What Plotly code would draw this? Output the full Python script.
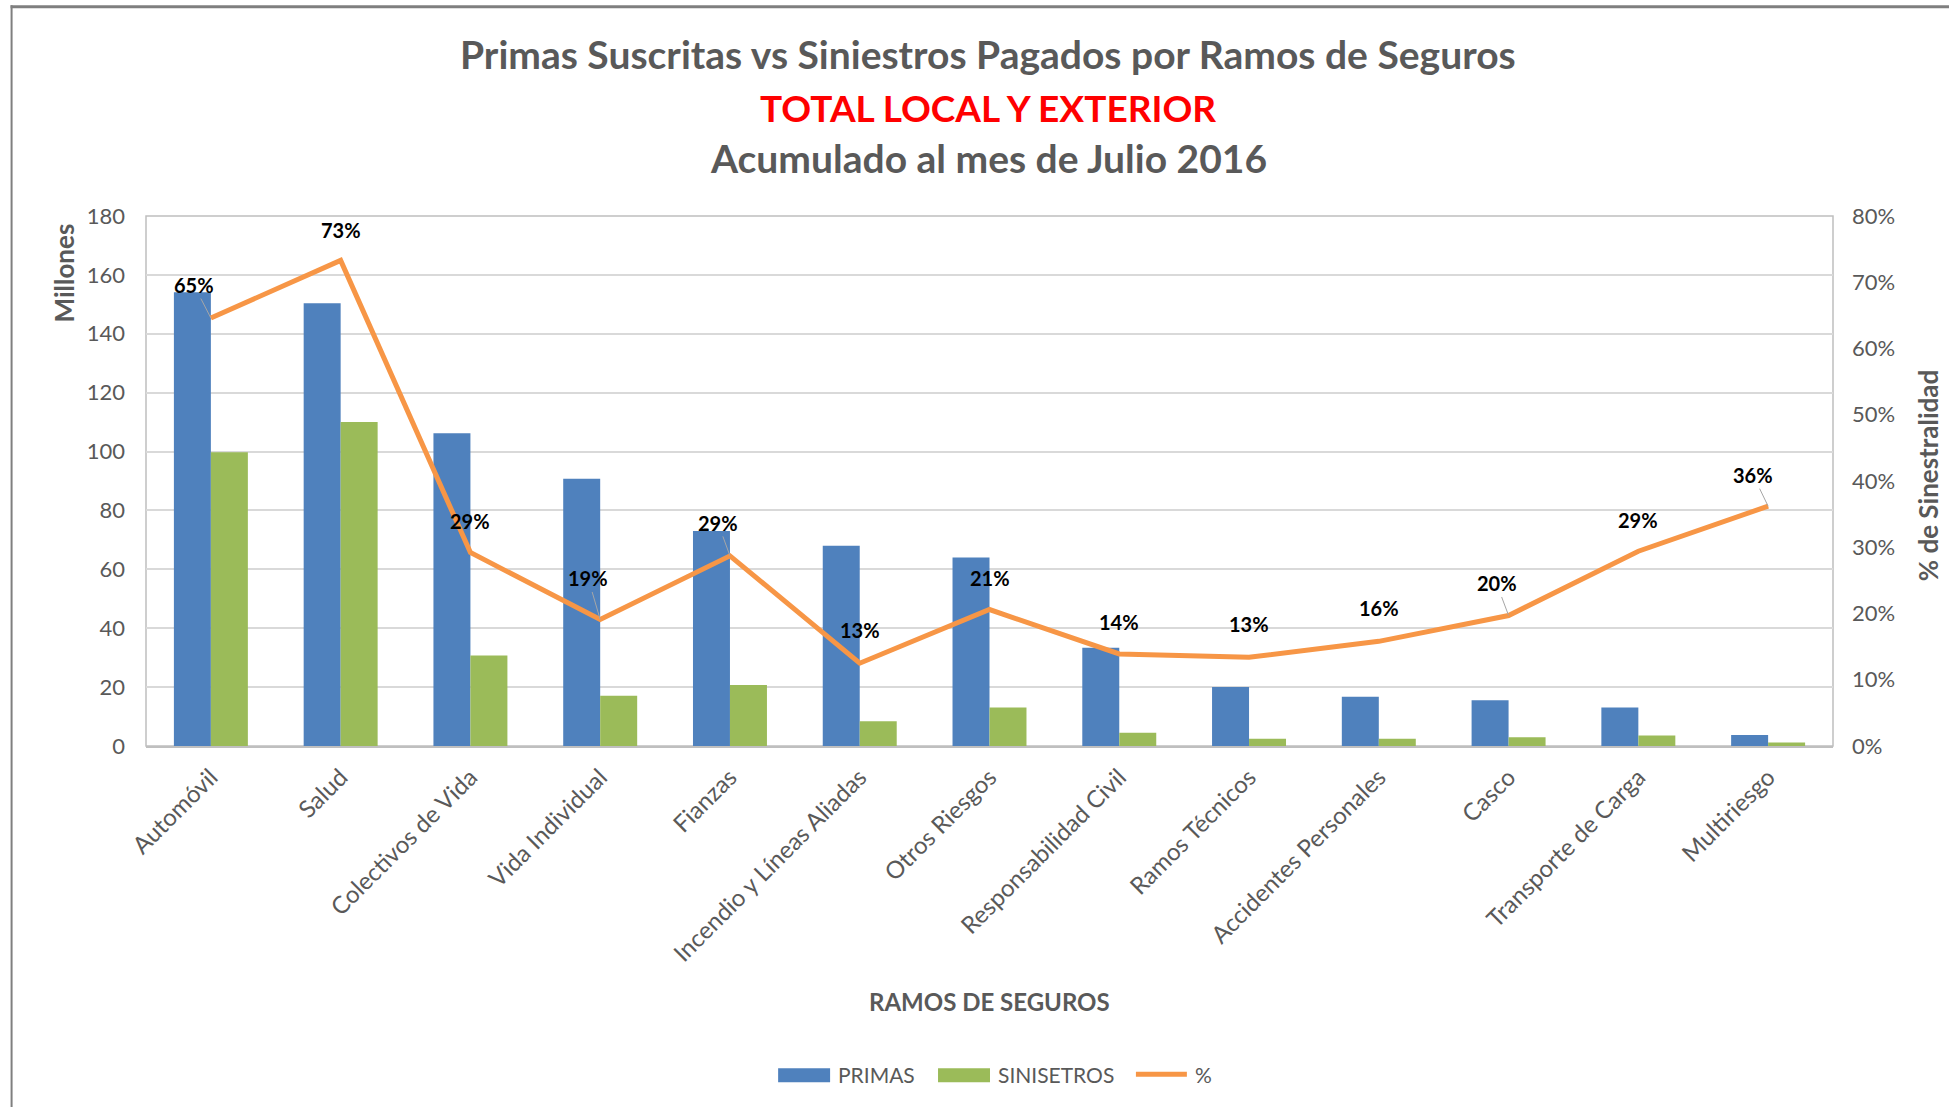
import plotly.graph_objects as go

categorias = ["Automóvil", "Salud", "Colectivos de Vida", "Vida Individual", "Fianzas",
              "Incendio y Líneas Aliadas", "Otros Riesgos", "Responsabilidad Civil",
              "Ramos Técnicos", "Accidentes Personales", "Casco", "Transporte de Carga",
              "Multiriesgo"]
primas = [154.1, 150.4, 106.2, 90.8, 73.0, 68.0, 64.0, 33.4, 20.0, 16.7, 15.5, 13.1, 3.7]
siniestros = [99.8, 110.0, 30.7, 17.1, 20.7, 8.4, 13.1, 4.5, 2.5, 2.5, 3.0, 3.6, 1.2]
porcentaje = [0.646, 0.733, 0.292, 0.191, 0.287, 0.125, 0.206, 0.139, 0.134, 0.158, 0.197, 0.294, 0.362]
etiquetas = ["65%", "73%", "29%", "19%", "29%", "13%", "21%", "14%", "13%", "16%", "20%", "29%", "36%"]
# label offsets (pixels) relative to the line point, and whether a leader line is shown
lab_dx = [-17, 0, 0, -12, -12, 0, 0, 0, 0, 0, -12, 0, -15]
lab_dy = [-33, -30, -32, -41, -33, -33, -32, -32, -33, -33, -32, -31, -31]
leader = [True, False, False, True, True, False, False, False, False, False, True, False, True]

FONT = "Lato"
GRAY = "#595959"

# plot area in page pixels
L, R, T, B = 145.5, 1833.5, 216.0, 746.4
W, H = 1949, 1107


def px(x):
    return (x - L) / (R - L)


def py(y):
    return (B - y) / (B - T)


fig = go.Figure()
fig.add_trace(go.Bar(x=categorias, y=primas, name="PRIMAS", marker_color="#4F81BD",
                     marker_line_width=0, showlegend=False))
fig.add_trace(go.Bar(x=categorias, y=siniestros, name="SINISETROS", marker_color="#9BBB59",
                     marker_line_width=0, showlegend=False))
fig.add_trace(go.Scatter(x=categorias, y=porcentaje, name="%", mode="lines",
                         line=dict(color="#F79646", width=5), yaxis="y2", showlegend=False))

annotations = []
for c, p, t, dx, dy, ld in zip(categorias, porcentaje, etiquetas, lab_dx, lab_dy, leader):
    common = dict(x=c, y=p, xref="x", yref="y2", text="<b>" + t + "</b>",
                  font=dict(family=FONT, size=20, color="black"),
                  xanchor="center", yanchor="middle")
    if ld:
        annotations.append(dict(common, showarrow=True, ax=dx, ay=dy, arrowhead=0,
                                arrowwidth=1, arrowcolor="#A6A6A6", standoff=0))
    else:
        annotations.append(dict(common, showarrow=False, xshift=dx, yshift=-dy))

# titles and axis titles
annotations += [
    dict(x=px(988), y=py(53.5), xref="paper", yref="paper", showarrow=False,
         text="<b>Primas Suscritas vs Siniestros Pagados por Ramos de Seguros</b>",
         font=dict(family=FONT, size=39, color=GRAY), xanchor="center", yanchor="middle"),
    dict(x=px(988), y=py(107), xref="paper", yref="paper", showarrow=False,
         text="<b>TOTAL LOCAL Y EXTERIOR</b>",
         font=dict(family=FONT, size=37, color="#FF0000"), xanchor="center", yanchor="middle"),
    dict(x=px(988), y=py(158), xref="paper", yref="paper", showarrow=False,
         text="<b>Acumulado al mes de Julio 2016</b>",
         font=dict(family=FONT, size=39, color=GRAY), xanchor="center", yanchor="middle"),
    dict(x=px(63), y=py(273), xref="paper", yref="paper",
         showarrow=False, text="<b>Millones</b>", textangle=-90,
         font=dict(family=FONT, size=26, color=GRAY), xanchor="center", yanchor="middle"),
    dict(x=px(1928), y=py(475), xref="paper", yref="paper",
         showarrow=False, text="<b>% de Sinestralidad</b>", textangle=-90,
         font=dict(family=FONT, size=26, color=GRAY), xanchor="center", yanchor="middle"),
    dict(x=px(989), y=py(1002), xref="paper", yref="paper",
         showarrow=False, text="<b>RAMOS DE SEGUROS</b>",
         font=dict(family=FONT, size=24, color=GRAY), xanchor="center", yanchor="middle"),
]

# custom legend (Excel style)
legend_items = [("PRIMAS", 778, 836), ("SINISETROS", 938, 996), ("%", 1136, 1193)]
for (name, sx, tx) in legend_items:
    annotations.append(dict(x=px(tx), y=py(1075), xref="paper", yref="paper",
                            showarrow=False, text=name, xanchor="left", yanchor="middle",
                            font=dict(family=FONT, size=21, color=GRAY)))

shapes = [
    # chart-area border (top and left)
    dict(type="line", xref="paper", yref="paper",
         x0=px(10), x1=px(1960), y0=py(6.5), y1=py(6.5),
         line=dict(color="#7F7F7F", width=3)),
    dict(type="line", xref="paper", yref="paper",
         x0=px(11), x1=px(11), y0=py(5), y1=py(1120),
         line=dict(color="#7F7F7F", width=2)),
    # plot-area border
    dict(type="rect", xref="paper", yref="paper", x0=0, x1=1, y0=0, y1=1,
         line=dict(color="#BFBFBF", width=1.5), layer="below"),
    # legend swatches
    dict(type="rect", xref="paper", yref="paper", x0=px(778), x1=px(830),
         y0=py(1083), y1=py(1069), fillcolor="#4F81BD", line=dict(width=0)),
    dict(type="rect", xref="paper", yref="paper", x0=px(938), x1=px(990),
         y0=py(1083), y1=py(1069), fillcolor="#9BBB59", line=dict(width=0)),
    dict(type="line", xref="paper", yref="paper", x0=px(1136), x1=px(1187),
         y0=py(1075), y1=py(1075), line=dict(color="#F79646", width=5)),
]

fig.update_layout(
    width=W, height=H,
    margin=dict(l=L, r=W - R, t=T, b=H - B),
    paper_bgcolor="white", plot_bgcolor="white",
    barmode="group", bargap=0.43, bargroupgap=0,
    font=dict(family=FONT, color=GRAY),
    showlegend=False,
    xaxis=dict(tickangle=-45, tickfont=dict(family=FONT, size=24, color=GRAY),
               showgrid=False, showline=True, linecolor="#BFBFBF", linewidth=1.5,
               ticks="", ticklabelstandoff=6, automargin=False),
    yaxis=dict(range=[0, 180], dtick=20, tickfont=dict(family=FONT, size=22, color=GRAY),
               showgrid=True, gridcolor="#D9D9D9", gridwidth=1.5, zeroline=False,
               ticks="", ticklabelstandoff=20, automargin=False),
    yaxis2=dict(range=[0, 0.8], dtick=0.1, tickformat=".0%", overlaying="y", side="right",
                tickfont=dict(family=FONT, size=22, color=GRAY), showgrid=False,
                zeroline=False, ticks="", ticklabelstandoff=18, automargin=False),
    annotations=annotations,
    shapes=shapes,
)

fig.write_html("out.html", config={"displayModeBar": False},
               post_script="document.body.style.margin='0';")
